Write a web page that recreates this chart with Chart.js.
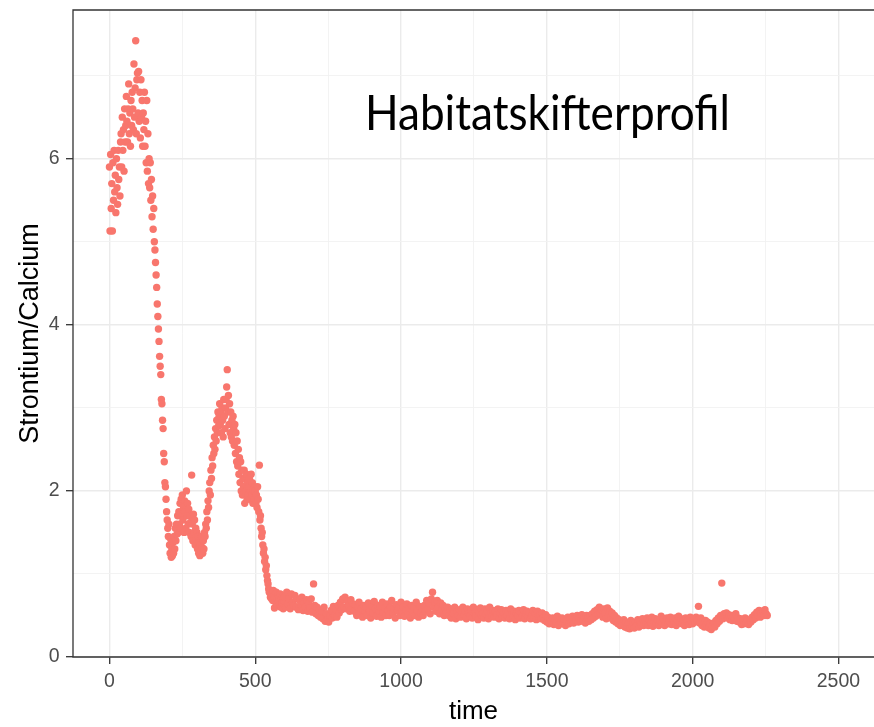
<!DOCTYPE html>
<html>
<head>
<meta charset="utf-8">
<script src="https://cdn.jsdelivr.net/npm/chart.js@4"></script>
<style>
html, body { margin: 0; padding: 0; background: #fff; overflow: hidden; }
#wrap { position: relative; width: 874px; height: 727px; }
</style>
</head>
<body>
<div id="wrap"><canvas id="chart"></canvas></div>
<script>
// Sr/Ca readings: steep part every 2 time units, flat tail every 4
const earlyStart = 0, earlyStep = 2;
const earlyRatio = [
    5.9, 5.13, 6.05, 5.4, 5.7, 5.13, 5.95, 5.5, 6.1, 5.6,
    5.8, 5.35, 6.0, 5.65, 5.45, 6.1, 5.75, 5.9, 5.55, 6.2,
    6.3, 5.9, 6.5, 6.1, 6.35, 5.85, 6.6, 6.2, 6.4, 6.75,
    6.45, 6.2, 6.6, 6.9, 6.3, 6.55, 6.15, 6.7, 6.4, 6.8,
    6.6, 6.35, 7.14, 6.5, 6.85, 7.42, 6.3, 6.95, 7.03, 6.55,
    7.05, 6.45, 6.8, 6.25, 6.95, 6.5, 6.7, 6.15, 6.55, 6.35,
    6.8, 6.15, 6.45, 5.95, 6.7, 5.85, 6.3, 5.7, 6.0, 5.65,
    5.95, 5.5, 5.75, 5.3, 5.55, 5.15, 5.4, 5.0, 4.9, 4.75,
    4.6, 4.45, 4.25, 4.1, 3.95, 3.8, 3.62, 3.5, 3.4, 3.1,
    3.05, 2.85, 2.75, 2.45, 2.35, 2.1, 2.05, 1.9, 1.75, 1.65,
    1.55, 1.45, 1.6, 1.35, 1.25, 1.42, 1.2, 1.3, 1.22, 1.38,
    1.25, 1.45, 1.3, 1.55, 1.4, 1.6, 1.48, 1.7, 1.5, 1.75,
    1.6, 1.85, 1.55, 1.9, 1.7, 1.95, 1.65, 1.8, 1.5, 1.88,
    1.75, 1.55, 2.0, 1.7, 1.85, 1.6, 1.78, 1.5, 1.7, 1.62,
    1.45, 2.19, 1.6, 1.4, 1.72, 1.5, 1.65, 1.35, 1.55, 1.42,
    1.5, 1.3, 1.45, 1.25, 1.38, 1.22, 1.35, 1.28, 1.45, 1.32,
    1.25, 1.4, 1.3, 1.5, 1.45, 1.6, 1.55, 1.75, 1.65, 1.88,
    1.8, 2.0, 2.1, 1.95, 2.25, 2.15, 2.4, 2.3, 2.55, 2.45,
    2.65, 2.5, 2.75, 2.6, 2.85, 2.7, 2.95, 2.78, 2.9, 3.05,
    2.8, 2.95, 2.7, 3.0, 2.85, 2.65, 3.1, 2.9, 2.75, 3.0,
    3.1, 3.25, 3.46, 2.95, 3.15, 2.8, 3.05, 2.7, 2.95, 2.65,
    2.85, 2.6, 2.9, 2.75, 2.55, 2.8, 2.45, 2.7, 2.35, 2.6,
    2.3, 2.5, 2.2, 2.4, 2.1, 2.35, 2.0, 2.25, 1.95, 2.15,
    2.05, 2.25, 1.85, 2.15, 2.0, 2.2, 1.9, 2.1, 1.95, 2.05,
    2.15, 1.9, 2.0, 2.2, 1.95, 2.1, 1.85, 2.0, 1.9, 2.05,
    2.0, 1.85, 1.95, 1.8, 2.05, 1.9, 1.75, 2.31, 1.65, 1.7,
    1.55, 1.45, 1.5, 1.35, 1.25, 1.3, 1.15, 1.2, 1.05, 1.1,
    0.98, 0.92, 0.88, 0.82, 0.78, 0.8, 0.72, 0.75, 0.7, 0.76,
    0.68, 0.8, 0.72, 0.59, 0.75, 0.66, 0.78, 0.7, 0.62, 0.74,
    0.67, 0.72, 0.63, 0.76, 0.6, 0.7, 0.65, 0.73, 0.58, 0.68
];

const lateStart = 600, lateStep = 4;
const lateRatio = [
    0.72, 0.6, 0.78, 0.64, 0.7, 0.58, 0.76, 0.66, 0.62, 0.74,
    0.6, 0.7, 0.57, 0.68, 0.63, 0.72, 0.56, 0.66, 0.6, 0.69,
    0.55, 0.65, 0.59, 0.7, 0.54, 0.88, 0.62, 0.52, 0.6, 0.5,
    0.57, 0.48, 0.55, 0.46, 0.6, 0.43, 0.52, 0.45, 0.42, 0.5,
    0.56, 0.47, 0.61, 0.5, 0.58, 0.48, 0.62, 0.53, 0.66, 0.57,
    0.7, 0.6, 0.72, 0.58, 0.67, 0.62, 0.55, 0.69, 0.58, 0.64,
    0.55, 0.63, 0.5, 0.6, 0.66, 0.52, 0.58, 0.48, 0.62, 0.55,
    0.6, 0.5, 0.65, 0.56, 0.47, 0.61, 0.53, 0.67, 0.58, 0.49,
    0.62, 0.55, 0.6, 0.48, 0.66, 0.54, 0.59, 0.5, 0.64, 0.56,
    0.5, 0.6, 0.68, 0.53, 0.58, 0.47, 0.63, 0.56, 0.6, 0.5,
    0.66, 0.55, 0.6, 0.49, 0.57, 0.64, 0.52, 0.59, 0.47, 0.62,
    0.55, 0.6, 0.5, 0.66, 0.56, 0.48, 0.61, 0.53, 0.58, 0.5,
    0.62, 0.55, 0.68, 0.58, 0.65, 0.52, 0.7, 0.78, 0.6, 0.66,
    0.55, 0.68, 0.6, 0.52, 0.65, 0.57, 0.62, 0.5, 0.58, 0.54,
    0.6, 0.5, 0.56, 0.47, 0.58, 0.52, 0.6, 0.46, 0.55, 0.5,
    0.57, 0.48, 0.54, 0.6, 0.5, 0.55, 0.46, 0.58, 0.52, 0.49,
    0.56, 0.47, 0.6, 0.52, 0.5, 0.57, 0.45, 0.54, 0.59, 0.5,
    0.53, 0.47, 0.58, 0.51, 0.55, 0.46, 0.6, 0.52, 0.49, 0.56,
    0.48, 0.55, 0.5, 0.58, 0.46, 0.53, 0.57, 0.49, 0.54, 0.47,
    0.56, 0.5, 0.53, 0.46, 0.58, 0.51, 0.48, 0.55, 0.45, 0.52,
    0.5, 0.56, 0.47, 0.53, 0.49, 0.57, 0.46, 0.52, 0.55, 0.48,
    0.53, 0.46, 0.5, 0.56, 0.47, 0.52, 0.45, 0.55, 0.49, 0.51,
    0.46, 0.53, 0.48, 0.44, 0.51, 0.42, 0.48, 0.4, 0.46, 0.43,
    0.47, 0.39, 0.45, 0.41, 0.49, 0.38, 0.44, 0.42, 0.47, 0.4,
    0.45, 0.38, 0.43, 0.48, 0.4, 0.46, 0.42, 0.49, 0.41, 0.47,
    0.44, 0.5, 0.42, 0.47, 0.43, 0.51, 0.45, 0.48, 0.41, 0.5,
    0.46, 0.43, 0.5, 0.45, 0.52, 0.47, 0.55, 0.49, 0.57, 0.51,
    0.6, 0.52, 0.57, 0.48, 0.58, 0.53, 0.46, 0.59, 0.5, 0.55,
    0.47, 0.53, 0.44, 0.5, 0.42, 0.47, 0.4, 0.45, 0.38, 0.43,
    0.4, 0.45, 0.36, 0.42, 0.35, 0.4, 0.34, 0.44, 0.37, 0.41,
    0.35, 0.42, 0.38, 0.45, 0.36, 0.43, 0.39, 0.46, 0.38, 0.44,
    0.4, 0.47, 0.38, 0.44, 0.41, 0.48, 0.37, 0.43, 0.46, 0.4,
    0.45, 0.38, 0.44, 0.49, 0.41, 0.46, 0.38, 0.43, 0.47, 0.4,
    0.44, 0.48, 0.39, 0.45, 0.42, 0.47, 0.38, 0.44, 0.49, 0.41,
    0.46, 0.4, 0.44, 0.38, 0.47, 0.42, 0.45, 0.39, 0.48, 0.43,
    0.4, 0.46, 0.42, 0.48, 0.44, 0.61, 0.41, 0.47, 0.38, 0.43,
    0.36, 0.44, 0.39, 0.42, 0.35, 0.4, 0.33, 0.37, 0.41, 0.36,
    0.44, 0.4, 0.47, 0.43, 0.5, 0.89, 0.46, 0.52, 0.48, 0.53,
    0.47, 0.51, 0.45, 0.5, 0.44, 0.49, 0.46, 0.52, 0.43, 0.47,
    0.42, 0.46, 0.39, 0.44, 0.4, 0.47, 0.41, 0.45, 0.39, 0.44,
    0.42, 0.48, 0.45, 0.51, 0.47, 0.54, 0.5, 0.56, 0.48, 0.53,
    0.55, 0.5, 0.57, 0.52, 0.5
];

// axis ticks (major ones get labels, the rest are minor grid lines)
const xTicks = [0, 250, 500, 750, 1000, 1250, 1500, 1750, 2000, 2250, 2500];
const xLabelled = [0, 500, 1000, 1500, 2000, 2500];
const yTicks = [0, 1, 2, 3, 4, 5, 6, 7];
const yLabelled = [0, 2, 4, 6];

const annotation = 'Habitatskifterprofil';
const pointColor = '#F8766D';

const points = [];
earlyRatio.forEach((v, i) => points.push({ x: earlyStart + i * earlyStep, y: v }));
lateRatio.forEach((v, i) => points.push({ x: lateStart + i * lateStep, y: v }));

// panel frame (right edge is cut off in the original) + text label inside the plot
const panelFrame = {
    id: 'panelFrame',
    afterDraw(chart) {
        const { ctx, chartArea: a } = chart;
        ctx.save();
        ctx.strokeStyle = '#333333';
        ctx.lineWidth = 1.3;
        ctx.beginPath();
        ctx.moveTo(a.right + 2, a.top);
        ctx.lineTo(a.left, a.top);
        ctx.lineTo(a.left, a.bottom);
        ctx.lineTo(a.right + 2, a.bottom);
        ctx.stroke();

        ctx.fillStyle = '#000000';
        ctx.font = '48px Lato';
        ctx.textBaseline = 'alphabetic';
        ctx.textAlign = 'left';
        const w = ctx.measureText(annotation).width;
        ctx.translate(365, 130);
        ctx.scale(365 / w, 1);
        ctx.fillText(annotation, 0, 0);
        ctx.restore();
    }
};

const isMajor = (list, v) => list.includes(v);
const axisFont = '"Liberation Sans", Arial, sans-serif';

new Chart(document.getElementById('chart'), {
    type: 'scatter',
    data: {
        datasets: [{
            data: points,
            backgroundColor: pointColor,
            borderWidth: 0,
            pointRadius: 3.7,
            pointHoverRadius: 3.7
        }]
    },
    options: {
        responsive: true,
        maintainAspectRatio: false,
        animation: false,
        events: [],
        layout: {
            autoPadding: false,
            padding: { top: 10, right: 0, left: 0, bottom: 0 }
        },
        plugins: {
            legend: { display: false },
            tooltip: { enabled: false }
        },
        scales: {
            x: {
                type: 'linear',
                min: -125,
                max: 2622,
                afterBuildTicks: scale => { scale.ticks = xTicks.map(v => ({ value: v })); },
                afterFit: scale => {
                    scale.height = 70;
                    scale.paddingLeft = 0;
                    scale.paddingRight = 0;
                },
                border: { display: false },
                grid: {
                    color: ctx => isMajor(xLabelled, ctx.tick.value) ? '#EBEBEB' : '#F2F2F2',
                    lineWidth: ctx => isMajor(xLabelled, ctx.tick.value) ? 1.4 : 0.9,
                    tickColor: ctx => isMajor(xLabelled, ctx.tick.value) ? '#333333' : 'rgba(0,0,0,0)',
                    tickLength: 7,
                    tickWidth: 1.3
                },
                ticks: {
                    autoSkip: false,
                    maxRotation: 0,
                    padding: 6,
                    color: '#4D4D4D',
                    font: { family: axisFont, size: 19.5 },
                    callback: v => isMajor(xLabelled, v) ? String(v) : ''
                },
                title: {
                    display: true,
                    text: 'time',
                    color: '#000000',
                    padding: { top: 0, bottom: 0 },
                    font: { family: axisFont, size: 26 }
                }
            },
            y: {
                type: 'linear',
                min: 0,
                max: 7.79,
                afterBuildTicks: scale => { scale.ticks = yTicks.map(v => ({ value: v })); },
                afterFit: scale => {
                    scale.width = 73;
                    scale.paddingTop = 0;
                    scale.paddingBottom = 0;
                },
                border: { display: false },
                grid: {
                    color: ctx => isMajor(yLabelled, ctx.tick.value) ? '#EBEBEB' : '#F2F2F2',
                    lineWidth: ctx => isMajor(yLabelled, ctx.tick.value) ? 1.4 : 0.9,
                    tickColor: ctx => isMajor(yLabelled, ctx.tick.value) ? '#333333' : 'rgba(0,0,0,0)',
                    tickLength: 7,
                    tickWidth: 1.3
                },
                ticks: {
                    autoSkip: false,
                    padding: 6.5,
                    color: '#4D4D4D',
                    font: { family: axisFont, size: 19.5 },
                    callback: v => isMajor(yLabelled, v) ? String(v) : ''
                },
                title: {
                    display: true,
                    text: 'Strontium/Calcium',
                    color: '#000000',
                    padding: { top: 14, bottom: 0 },
                    font: { family: axisFont, size: 27 }
                }
            }
        }
    },
    plugins: [panelFrame]
});
</script>
</body>
</html>
